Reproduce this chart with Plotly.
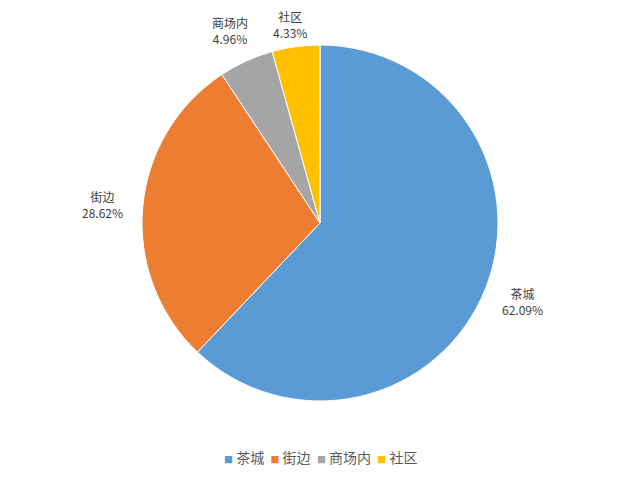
import math
import plotly.graph_objects as go

labels = ["茶城", "街边", "商场内", "社区"]
values = [62.09, 28.62, 4.96, 4.33]
colors = ["#5b9bd5", "#ed7d31", "#a5a5a5", "#ffc000"]

W, H = 640, 480
CX, CY, R = 320, 223, 178  # pixel centre / radius of the pie

fig = go.Figure(go.Pie(
    labels=labels,
    values=values,
    sort=False,
    direction="clockwise",
    rotation=0,
    marker=dict(colors=colors, line=dict(color="white", width=1)),
    textinfo="none",
    domain=dict(x=[(CX - R) / W, (CX + R) / W], y=[(H - CY - R) / H, (H - CY + R) / H]),
    hoverinfo="label+percent",
    showlegend=False,
))

# outside labels placed from the slice mid-angles
total = sum(values)
cum = 0.0
annotations = []
for lab, v in zip(labels, values):
    mid = (cum + v / 2) / total * 2 * math.pi
    cum += v
    dx, dy = math.sin(mid), math.cos(mid)
    g, hw, hh = 18, 22, 16
    px = CX + dx * (R + g) + hw * dx
    py_up = (H - CY) + dy * (R + g) + hh * dy
    py_up = min(py_up, H - 24)
    annotations.append(dict(
        x=px / W, y=py_up / H, xref="paper", yref="paper",
        text=f"{lab}<br>{v:.2f}%", showarrow=False,
        xanchor="center", yanchor="middle", align="center",
        font=dict(family="Noto Sans CJK SC", size=12, color="#404040"),
    ))

# compact legend as text
parts = []
for lab, c in zip(labels, colors):
    parts.append(f"<span style='color:{c};font-size:9px'>■</span> {lab}")
annotations.append(dict(
    x=0.5, y=(H - 457) / H, xref="paper", yref="paper",
    text="  ".join(parts), showarrow=False,
    xanchor="center", yanchor="middle",
    font=dict(family="Noto Sans CJK SC", size=14, color="#595959"),
))

fig.update_layout(
    width=W, height=H,
    margin=dict(l=0, r=0, t=0, b=0),
    paper_bgcolor="white",
    plot_bgcolor="white",
    font=dict(family="Noto Sans CJK SC", size=13, color="#595959"),
    annotations=annotations,
)

fig.write_html("out.html", config={"displayModeBar": False},
               post_script="document.body.style.margin='0px';")
